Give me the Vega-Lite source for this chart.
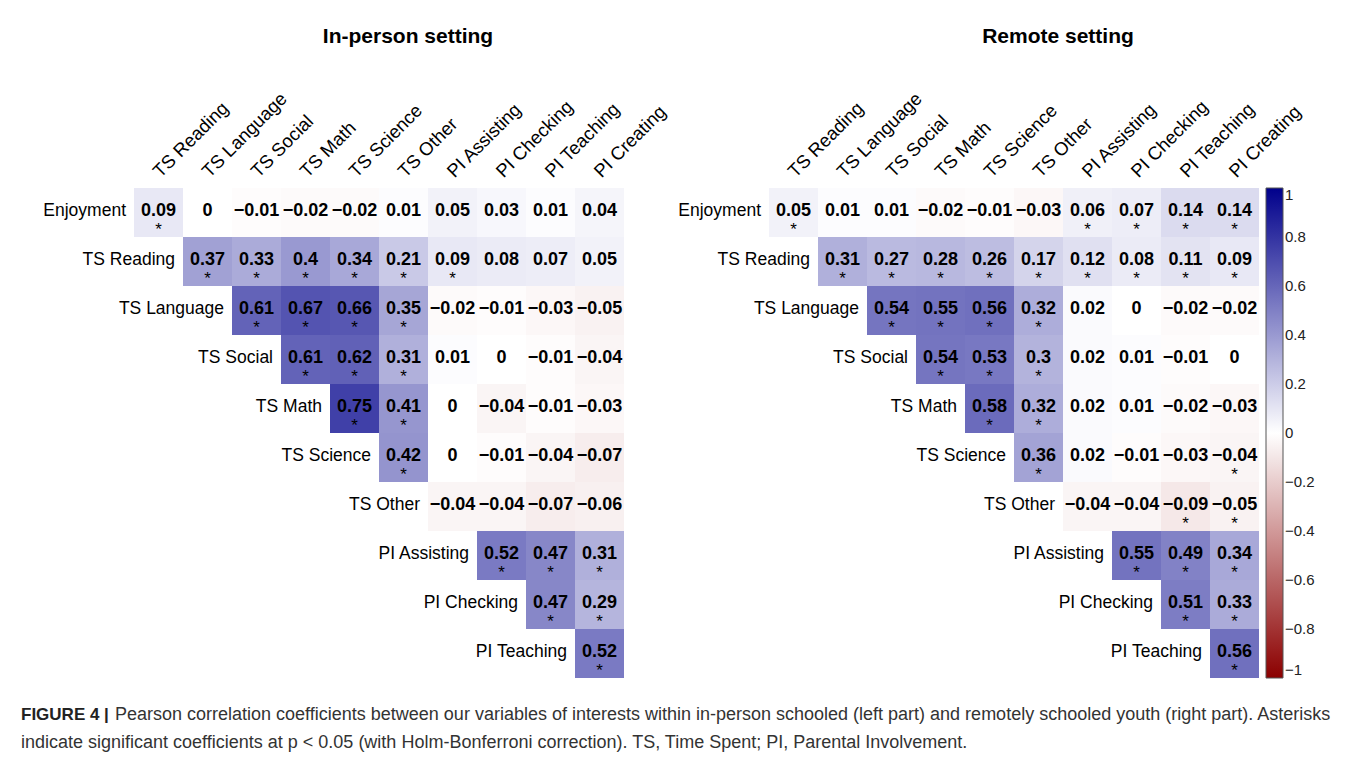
{
  "$schema": "https://vega.github.io/schema/vega-lite/v6.json",
  "background": "white",
  "padding": {"left": 21, "top": 25, "right": 5, "bottom": 12},
  "datasets": {
    "cells": [
      {"p": "I", "row": "Enjoyment", "col": "TS Reading", "r": 0.09, "s": 1},
      {"p": "I", "row": "Enjoyment", "col": "TS Language", "r": 0, "s": 0},
      {"p": "I", "row": "Enjoyment", "col": "TS Social", "r": -0.01, "s": 0},
      {"p": "I", "row": "Enjoyment", "col": "TS Math", "r": -0.02, "s": 0},
      {"p": "I", "row": "Enjoyment", "col": "TS Science", "r": -0.02, "s": 0},
      {"p": "I", "row": "Enjoyment", "col": "TS Other", "r": 0.01, "s": 0},
      {"p": "I", "row": "Enjoyment", "col": "PI Assisting", "r": 0.05, "s": 0},
      {"p": "I", "row": "Enjoyment", "col": "PI Checking", "r": 0.03, "s": 0},
      {"p": "I", "row": "Enjoyment", "col": "PI Teaching", "r": 0.01, "s": 0},
      {"p": "I", "row": "Enjoyment", "col": "PI Creating", "r": 0.04, "s": 0},
      {"p": "I", "row": "TS Reading", "col": "TS Language", "r": 0.37, "s": 1},
      {"p": "I", "row": "TS Reading", "col": "TS Social", "r": 0.33, "s": 1},
      {"p": "I", "row": "TS Reading", "col": "TS Math", "r": 0.4, "s": 1},
      {"p": "I", "row": "TS Reading", "col": "TS Science", "r": 0.34, "s": 1},
      {"p": "I", "row": "TS Reading", "col": "TS Other", "r": 0.21, "s": 1},
      {"p": "I", "row": "TS Reading", "col": "PI Assisting", "r": 0.09, "s": 1},
      {"p": "I", "row": "TS Reading", "col": "PI Checking", "r": 0.08, "s": 0},
      {"p": "I", "row": "TS Reading", "col": "PI Teaching", "r": 0.07, "s": 0},
      {"p": "I", "row": "TS Reading", "col": "PI Creating", "r": 0.05, "s": 0},
      {"p": "I", "row": "TS Language", "col": "TS Social", "r": 0.61, "s": 1},
      {"p": "I", "row": "TS Language", "col": "TS Math", "r": 0.67, "s": 1},
      {"p": "I", "row": "TS Language", "col": "TS Science", "r": 0.66, "s": 1},
      {"p": "I", "row": "TS Language", "col": "TS Other", "r": 0.35, "s": 1},
      {"p": "I", "row": "TS Language", "col": "PI Assisting", "r": -0.02, "s": 0},
      {"p": "I", "row": "TS Language", "col": "PI Checking", "r": -0.01, "s": 0},
      {"p": "I", "row": "TS Language", "col": "PI Teaching", "r": -0.03, "s": 0},
      {"p": "I", "row": "TS Language", "col": "PI Creating", "r": -0.05, "s": 0},
      {"p": "I", "row": "TS Social", "col": "TS Math", "r": 0.61, "s": 1},
      {"p": "I", "row": "TS Social", "col": "TS Science", "r": 0.62, "s": 1},
      {"p": "I", "row": "TS Social", "col": "TS Other", "r": 0.31, "s": 1},
      {"p": "I", "row": "TS Social", "col": "PI Assisting", "r": 0.01, "s": 0},
      {"p": "I", "row": "TS Social", "col": "PI Checking", "r": 0, "s": 0},
      {"p": "I", "row": "TS Social", "col": "PI Teaching", "r": -0.01, "s": 0},
      {"p": "I", "row": "TS Social", "col": "PI Creating", "r": -0.04, "s": 0},
      {"p": "I", "row": "TS Math", "col": "TS Science", "r": 0.75, "s": 1},
      {"p": "I", "row": "TS Math", "col": "TS Other", "r": 0.41, "s": 1},
      {"p": "I", "row": "TS Math", "col": "PI Assisting", "r": 0, "s": 0},
      {"p": "I", "row": "TS Math", "col": "PI Checking", "r": -0.04, "s": 0},
      {"p": "I", "row": "TS Math", "col": "PI Teaching", "r": -0.01, "s": 0},
      {"p": "I", "row": "TS Math", "col": "PI Creating", "r": -0.03, "s": 0},
      {"p": "I", "row": "TS Science", "col": "TS Other", "r": 0.42, "s": 1},
      {"p": "I", "row": "TS Science", "col": "PI Assisting", "r": 0, "s": 0},
      {"p": "I", "row": "TS Science", "col": "PI Checking", "r": -0.01, "s": 0},
      {"p": "I", "row": "TS Science", "col": "PI Teaching", "r": -0.04, "s": 0},
      {"p": "I", "row": "TS Science", "col": "PI Creating", "r": -0.07, "s": 0},
      {"p": "I", "row": "TS Other", "col": "PI Assisting", "r": -0.04, "s": 0},
      {"p": "I", "row": "TS Other", "col": "PI Checking", "r": -0.04, "s": 0},
      {"p": "I", "row": "TS Other", "col": "PI Teaching", "r": -0.07, "s": 0},
      {"p": "I", "row": "TS Other", "col": "PI Creating", "r": -0.06, "s": 0},
      {"p": "I", "row": "PI Assisting", "col": "PI Checking", "r": 0.52, "s": 1},
      {"p": "I", "row": "PI Assisting", "col": "PI Teaching", "r": 0.47, "s": 1},
      {"p": "I", "row": "PI Assisting", "col": "PI Creating", "r": 0.31, "s": 1},
      {"p": "I", "row": "PI Checking", "col": "PI Teaching", "r": 0.47, "s": 1},
      {"p": "I", "row": "PI Checking", "col": "PI Creating", "r": 0.29, "s": 1},
      {"p": "I", "row": "PI Teaching", "col": "PI Creating", "r": 0.52, "s": 1},

      {"p": "R", "row": "Enjoyment", "col": "TS Reading", "r": 0.05, "s": 1},
      {"p": "R", "row": "Enjoyment", "col": "TS Language", "r": 0.01, "s": 0},
      {"p": "R", "row": "Enjoyment", "col": "TS Social", "r": 0.01, "s": 0},
      {"p": "R", "row": "Enjoyment", "col": "TS Math", "r": -0.02, "s": 0},
      {"p": "R", "row": "Enjoyment", "col": "TS Science", "r": -0.01, "s": 0},
      {"p": "R", "row": "Enjoyment", "col": "TS Other", "r": -0.03, "s": 0},
      {"p": "R", "row": "Enjoyment", "col": "PI Assisting", "r": 0.06, "s": 1},
      {"p": "R", "row": "Enjoyment", "col": "PI Checking", "r": 0.07, "s": 1},
      {"p": "R", "row": "Enjoyment", "col": "PI Teaching", "r": 0.14, "s": 1},
      {"p": "R", "row": "Enjoyment", "col": "PI Creating", "r": 0.14, "s": 1},
      {"p": "R", "row": "TS Reading", "col": "TS Language", "r": 0.31, "s": 1},
      {"p": "R", "row": "TS Reading", "col": "TS Social", "r": 0.27, "s": 1},
      {"p": "R", "row": "TS Reading", "col": "TS Math", "r": 0.28, "s": 1},
      {"p": "R", "row": "TS Reading", "col": "TS Science", "r": 0.26, "s": 1},
      {"p": "R", "row": "TS Reading", "col": "TS Other", "r": 0.17, "s": 1},
      {"p": "R", "row": "TS Reading", "col": "PI Assisting", "r": 0.12, "s": 1},
      {"p": "R", "row": "TS Reading", "col": "PI Checking", "r": 0.08, "s": 1},
      {"p": "R", "row": "TS Reading", "col": "PI Teaching", "r": 0.11, "s": 1},
      {"p": "R", "row": "TS Reading", "col": "PI Creating", "r": 0.09, "s": 1},
      {"p": "R", "row": "TS Language", "col": "TS Social", "r": 0.54, "s": 1},
      {"p": "R", "row": "TS Language", "col": "TS Math", "r": 0.55, "s": 1},
      {"p": "R", "row": "TS Language", "col": "TS Science", "r": 0.56, "s": 1},
      {"p": "R", "row": "TS Language", "col": "TS Other", "r": 0.32, "s": 1},
      {"p": "R", "row": "TS Language", "col": "PI Assisting", "r": 0.02, "s": 0},
      {"p": "R", "row": "TS Language", "col": "PI Checking", "r": 0, "s": 0},
      {"p": "R", "row": "TS Language", "col": "PI Teaching", "r": -0.02, "s": 0},
      {"p": "R", "row": "TS Language", "col": "PI Creating", "r": -0.02, "s": 0},
      {"p": "R", "row": "TS Social", "col": "TS Math", "r": 0.54, "s": 1},
      {"p": "R", "row": "TS Social", "col": "TS Science", "r": 0.53, "s": 1},
      {"p": "R", "row": "TS Social", "col": "TS Other", "r": 0.3, "s": 1},
      {"p": "R", "row": "TS Social", "col": "PI Assisting", "r": 0.02, "s": 0},
      {"p": "R", "row": "TS Social", "col": "PI Checking", "r": 0.01, "s": 0},
      {"p": "R", "row": "TS Social", "col": "PI Teaching", "r": -0.01, "s": 0},
      {"p": "R", "row": "TS Social", "col": "PI Creating", "r": 0, "s": 0},
      {"p": "R", "row": "TS Math", "col": "TS Science", "r": 0.58, "s": 1},
      {"p": "R", "row": "TS Math", "col": "TS Other", "r": 0.32, "s": 1},
      {"p": "R", "row": "TS Math", "col": "PI Assisting", "r": 0.02, "s": 0},
      {"p": "R", "row": "TS Math", "col": "PI Checking", "r": 0.01, "s": 0},
      {"p": "R", "row": "TS Math", "col": "PI Teaching", "r": -0.02, "s": 0},
      {"p": "R", "row": "TS Math", "col": "PI Creating", "r": -0.03, "s": 0},
      {"p": "R", "row": "TS Science", "col": "TS Other", "r": 0.36, "s": 1},
      {"p": "R", "row": "TS Science", "col": "PI Assisting", "r": 0.02, "s": 0},
      {"p": "R", "row": "TS Science", "col": "PI Checking", "r": -0.01, "s": 0},
      {"p": "R", "row": "TS Science", "col": "PI Teaching", "r": -0.03, "s": 0},
      {"p": "R", "row": "TS Science", "col": "PI Creating", "r": -0.04, "s": 1},
      {"p": "R", "row": "TS Other", "col": "PI Assisting", "r": -0.04, "s": 0},
      {"p": "R", "row": "TS Other", "col": "PI Checking", "r": -0.04, "s": 0},
      {"p": "R", "row": "TS Other", "col": "PI Teaching", "r": -0.09, "s": 1},
      {"p": "R", "row": "TS Other", "col": "PI Creating", "r": -0.05, "s": 1},
      {"p": "R", "row": "PI Assisting", "col": "PI Checking", "r": 0.55, "s": 1},
      {"p": "R", "row": "PI Assisting", "col": "PI Teaching", "r": 0.49, "s": 1},
      {"p": "R", "row": "PI Assisting", "col": "PI Creating", "r": 0.34, "s": 1},
      {"p": "R", "row": "PI Checking", "col": "PI Teaching", "r": 0.51, "s": 1},
      {"p": "R", "row": "PI Checking", "col": "PI Creating", "r": 0.33, "s": 1},
      {"p": "R", "row": "PI Teaching", "col": "PI Creating", "r": 0.56, "s": 1}
    ],
    "rowlabels": [
      {"row": "Enjoyment", "col": "TS Reading"},
      {"row": "TS Reading", "col": "TS Language"},
      {"row": "TS Language", "col": "TS Social"},
      {"row": "TS Social", "col": "TS Math"},
      {"row": "TS Math", "col": "TS Science"},
      {"row": "TS Science", "col": "TS Other"},
      {"row": "TS Other", "col": "PI Assisting"},
      {"row": "PI Assisting", "col": "PI Checking"},
      {"row": "PI Checking", "col": "PI Teaching"},
      {"row": "PI Teaching", "col": "PI Creating"}
    ]
  },
  "title": {
    "text": "Pearson correlation coefficients between our variables of interests within in-person schooled (left part) and remotely schooled youth (right part). Asterisks",
    "orient": "bottom",
    "anchor": "start",
    "frame": "group",
    "dx": -19,
    "offset": -46,
    "font": "Liberation Sans",
    "fontSize": 18,
    "fontWeight": "normal",
    "color": "#333"
  },
  "bounds": "flush",
  "spacing": 0,
  "vconcat": [
    {
      "title": {
        "text": "FIGURE 4 |",
        "subtitle": "indicate significant coefficients at p < 0.05 (with Holm-Bonferroni correction). TS, Time Spent; PI, Parental Involvement.",
        "orient": "bottom",
        "anchor": "start",
        "frame": "group",
        "dx": -113,
        "offset": 28,
        "font": "Liberation Sans",
        "fontSize": 17,
        "fontWeight": "bold",
        "color": "#222",
        "subtitleFont": "Liberation Sans",
        "subtitleFontSize": 18,
        "subtitleFontWeight": "normal",
        "subtitleColor": "#333",
        "subtitlePadding": 10
      },
      "hconcat": [
        {
          "title": {"text": "In-person setting", "frame": "group", "anchor": "middle", "dx": 29, "offset": 42},
          "width": 490,
          "height": 490,
          "encoding": {
            "x": {"field": "col", "type": "nominal", "scale": {"domain": ["TS Reading", "TS Language", "TS Social", "TS Math", "TS Science", "TS Other", "PI Assisting", "PI Checking", "PI Teaching", "PI Creating"]}},
            "y": {"field": "row", "type": "nominal", "scale": {"domain": ["Enjoyment", "TS Reading", "TS Language", "TS Social", "TS Math", "TS Science", "TS Other", "PI Assisting", "PI Checking", "PI Teaching"]}}
          },
          "layer": [
            {
              "data": {"name": "cells"},
              "transform": [{"filter": "datum.p === 'I'"}],
              "mark": {"type": "rect"},
              "encoding": {
                "color": {
                  "field": "r", "type": "quantitative",
                  "scale": {"domain": [-1, 0, 1], "range": ["#8B0000", "#FFFFFF", "#00008B"], "interpolate": "rgb"},
                  "legend": {"format": "~g", "values": [1, 0.8, 0.6, 0.4, 0.2, 0, -0.2, -0.4, -0.6, -0.8, -1], "orient": "none", "legendX": 1132, "legendY": 0}
                }
              }
            },
            {
              "data": {"name": "cells"},
              "transform": [{"filter": "datum.p === 'I'"}],
              "mark": {"type": "text", "fontSize": 18, "fontWeight": "bold", "color": "black", "baseline": "middle", "dy": -2},
              "encoding": {
                "text": {"field": "r", "type": "quantitative", "format": ".2~f"}
              }
            },
            {
              "data": {"name": "cells"},
              "transform": [{"filter": "datum.p === 'I' && datum.s === 1"}],
              "mark": {"type": "text", "fontSize": 17, "color": "black", "baseline": "middle", "dy": 17, "text": "*"},
              "encoding": {}
            },
            {
              "data": {"name": "rowlabels"},
              "mark": {"type": "text", "fontSize": 17.5, "color": "black", "align": "right", "baseline": "middle", "dx": -32.5, "dy": -2},
              "encoding": {
                "text": {"field": "row", "type": "nominal"}
              }
            }
          ]
        },
        {
          "title": {"text": "Remote setting", "frame": "group", "anchor": "middle", "dx": 44, "offset": 42},
          "width": 490,
          "height": 490,
          "encoding": {
            "x": {"field": "col", "type": "nominal", "scale": {"domain": ["TS Reading", "TS Language", "TS Social", "TS Math", "TS Science", "TS Other", "PI Assisting", "PI Checking", "PI Teaching", "PI Creating"]}},
            "y": {"field": "row", "type": "nominal", "scale": {"domain": ["Enjoyment", "TS Reading", "TS Language", "TS Social", "TS Math", "TS Science", "TS Other", "PI Assisting", "PI Checking", "PI Teaching"]}}
          },
          "layer": [
            {
              "data": {"name": "cells"},
              "transform": [{"filter": "datum.p === 'R'"}],
              "mark": {"type": "rect"},
              "encoding": {
                "color": {
                  "field": "r", "type": "quantitative",
                  "scale": {"domain": [-1, 0, 1], "range": ["#8B0000", "#FFFFFF", "#00008B"], "interpolate": "rgb"},
                  "legend": {"format": "~g", "values": [1, 0.8, 0.6, 0.4, 0.2, 0, -0.2, -0.4, -0.6, -0.8, -1], "orient": "none", "legendX": 1132, "legendY": 0}
                }
              }
            },
            {
              "data": {"name": "cells"},
              "transform": [{"filter": "datum.p === 'R'"}],
              "mark": {"type": "text", "fontSize": 18, "fontWeight": "bold", "color": "black", "baseline": "middle", "dy": -2},
              "encoding": {
                "text": {"field": "r", "type": "quantitative", "format": ".2~f"}
              }
            },
            {
              "data": {"name": "cells"},
              "transform": [{"filter": "datum.p === 'R' && datum.s === 1"}],
              "mark": {"type": "text", "fontSize": 17, "color": "black", "baseline": "middle", "dy": 17, "text": "*"},
              "encoding": {}
            },
            {
              "data": {"name": "rowlabels"},
              "mark": {"type": "text", "fontSize": 17.5, "color": "black", "align": "right", "baseline": "middle", "dx": -32.5, "dy": -2},
              "encoding": {
                "text": {"field": "row", "type": "nominal"}
              }
            }
          ]
        }
      ],
      "spacing": 145,
      "bounds": "flush",
      "resolve": {"scale": {"x": "independent", "y": "independent", "color": "shared"}, "legend": {"color": "shared"}}
    }
  ],
  "config": {
    "font": "Liberation Sans",
    "view": {"stroke": null},
    "title": {"font": "Liberation Sans", "fontSize": 21, "fontWeight": "bold", "color": "black"},
    "scale": {"bandPaddingInner": 0, "bandPaddingOuter": 0},
    "axisX": {
      "orient": "top", "title": null, "domain": false, "ticks": false, "grid": false,
      "labelAngle": -45, "labelAlign": "left", "labelBaseline": "alphabetic",
      "labelFont": "Liberation Sans", "labelFontSize": 18.5, "labelColor": "black",
      "labelPadding": 10, "labelOffset": 2, "labelOverlap": false, "labelLimit": 300
    },
    "axisY": {"disable": true},
    "legend": {
      "padding": 0, "title": null,
      "gradientLength": 490, "gradientThickness": 17,
      "gradientStrokeColor": "#555", "gradientStrokeWidth": 1,
      "labelFont": "Liberation Sans", "labelFontSize": 15, "labelColor": "#222",
      "labelOffset": 9, "labelBaseline": "middle", "labelOverlap": false
    }
  }
}
